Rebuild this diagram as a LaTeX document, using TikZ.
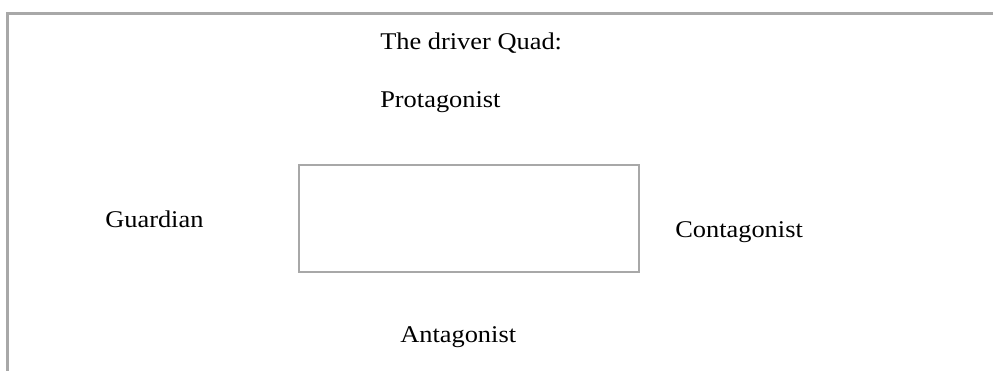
\documentclass[tikz,border=0pt]{standalone}
\usepackage{fontspec}
\setmainfont[FakeStretch=1.1]{Liberation Serif}
\begin{document}
\begin{tikzpicture}[x=0.75pt,y=-0.75pt,
  frameline/.style={draw=black!34, line width=1.6pt},
  lbl/.style={anchor=base west, inner sep=0pt, font=\fontsize{18pt}{21pt}\selectfont}]
\useasboundingbox (0,0) rectangle (993,371);
% open frame: top edge and left edge
\coordinate (tl) at (7.5,13.5);
\coordinate (tr) at (993,13.5);
\coordinate (bl) at (7.5,371);
\draw[frameline, line cap=rect] (tr) -- (tl) -- (bl);
% central box
\node[frameline, minimum width=340*0.75pt, minimum height=107*0.75pt, inner sep=0pt] (box) at (469,218.5) {};
% labels
\node[lbl] (title) at (380,49) {The driver Quad:};
\node[lbl] (pro) at (380,107) {Protagonist};
\node[lbl] (guard) at (105,227) {Guardian};
\node[lbl] (con) at (675,237) {Contagonist};
\node[lbl] (ant) at (400,342) {Antagonist};
\end{tikzpicture}
\end{document}
